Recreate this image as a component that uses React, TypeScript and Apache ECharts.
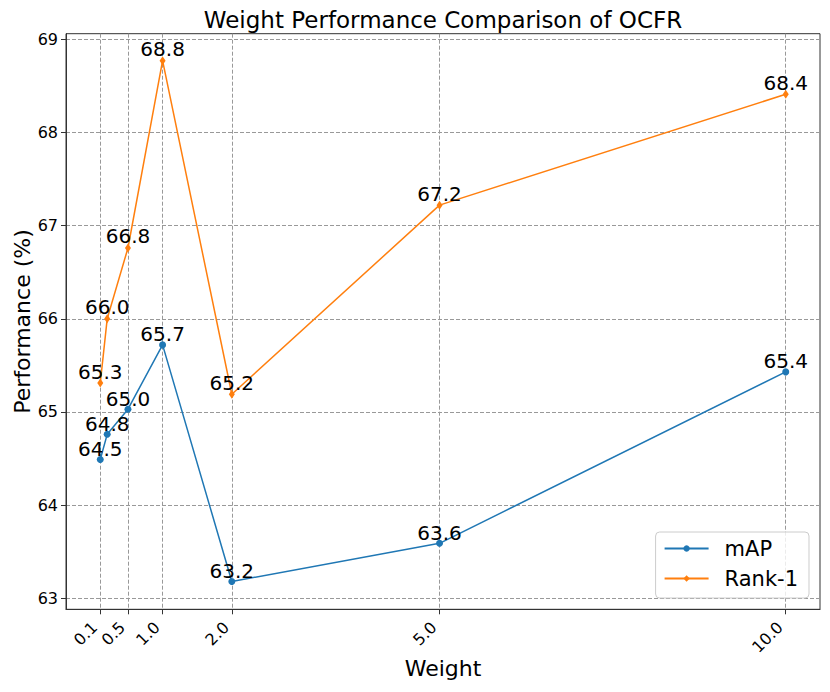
import React, { useEffect, useRef } from "react";
import * as echarts from "echarts";

const weights = [0.1, 0.2, 0.5, 1.0, 2.0, 5.0, 10.0];
const mAP = [64.49, 64.76, 65.03, 65.72, 63.18, 63.59, 65.43];
const rank1 = [65.31, 66.0, 66.76, 68.77, 65.19, 67.22, 68.41];
const xTicks = [0.1, 0.5, 1.0, 2.0, 5.0, 10.0];
const yTicks = [63, 64, 65, 66, 67, 68, 69];

const FONT = "DejaVu Sans";

export default function App() {
  const ref = useRef<HTMLDivElement>(null);
  useEffect(() => {
    document.body.style.margin = "0";
    const chart = echarts.init(ref.current!, null, { renderer: "svg" });
    const gridLine = { show: true, lineStyle: { color: "#999", width: 1, type: [4, 2] as any } };
    const mkLabel = {
      show: true,
      position: "top" as const,
      distance: -3,
      fontSize: 20,
      fontFamily: FONT,
      color: "#000",
      formatter: (p: any) => Number(p.value[1]).toFixed(1),
    };
    chart.setOption({
      animation: false,
      textStyle: { fontFamily: FONT },
      graphic: [
        {
          type: "text",
          x: 443,
          y: 20,
          style: {
            text: "Weight Performance Comparison of OCFR",
            fontSize: 23,
            fontFamily: FONT,
            fill: "#000",
            textAlign: "center",
            textVerticalAlign: "middle",
          },
        },
      ],
      grid: {
        left: 66,
        right: 10,
        top: 33.7,
        bottom: 82.7,
        outerBoundsMode: "none",
        containLabel: false,
        show: true,
        borderColor: "#333",
        borderWidth: 1,
        backgroundColor: "transparent",
      },
      xAxis: {
        type: "value",
        min: -0.395,
        max: 10.495,
        name: "Weight",
        nameLocation: "middle",
        nameGap: 48,
        nameMoveOverlap: false,
        nameTextStyle: { fontSize: 22, fontFamily: FONT, color: "#000" },
        axisLine: { show: true, onZero: false, lineStyle: { color: "#333", width: 1 } },
        axisTick: { show: true, length: 5, customValues: xTicks, lineStyle: { color: "#333" } },
        axisLabel: {
          customValues: xTicks,
          rotate: 45,
          margin: 21,
          align: "right",
          verticalAlign: "bottom",
          fontSize: 16,
          fontFamily: FONT,
          color: "#000",
          formatter: (v: number) => v.toFixed(1),
        },
        splitLine: gridLine,
      },
      yAxis: {
        type: "value",
        min: 62.882,
        max: 69.06,
        name: "Performance (%)",
        nameLocation: "middle",
        nameRotate: 90,
        nameGap: 33,
        nameMoveOverlap: false,
        nameTextStyle: { fontSize: 22, fontFamily: FONT, color: "#000" },
        axisLine: { show: true, onZero: false, lineStyle: { color: "#333", width: 1 } },
        axisTick: { show: true, length: 5, customValues: yTicks, lineStyle: { color: "#333" } },
        axisLabel: {
          customValues: yTicks,
          margin: 8,
          fontSize: 16,
          fontFamily: FONT,
          color: "#000",
        },
        splitLine: gridLine,
      },
      legend: {
        orient: "vertical",
        right: 21,
        bottom: 94,
        padding: [6, 11, 9, 8],
        itemGap: 9,
        itemWidth: 44,
        itemHeight: 8,
        backgroundColor: "rgba(255,255,255,0.8)",
        borderColor: "#ccc",
        borderWidth: 1,
        borderRadius: 4,
        textStyle: { fontSize: 21, fontFamily: FONT, color: "#000", padding: [0, 0, 0, 11] },
        data: ["mAP", "Rank-1"],
      },
      series: [
        {
          name: "mAP",
          type: "line",
          data: weights.map((w, i) => [w, mAP[i]]),
          symbol: "circle",
          symbolSize: 7,
          color: "#1f77b4",
          lineStyle: { width: 1.5, color: "#1f77b4" },
          itemStyle: { color: "#1f77b4" },
          label: mkLabel,
        },
        {
          name: "Rank-1",
          type: "line",
          data: weights.map((w, i) => [w, rank1[i]]),
          symbol: "diamond",
          symbolSize: [6, 9],
          color: "#ff7f0e",
          lineStyle: { width: 1.5, color: "#ff7f0e" },
          itemStyle: { color: "#ff7f0e" },
          label: mkLabel,
        },
      ],
    });
    return () => chart.dispose();
  }, []);
  return <div ref={ref} style={{ width: 830, height: 692 }} />;
}
